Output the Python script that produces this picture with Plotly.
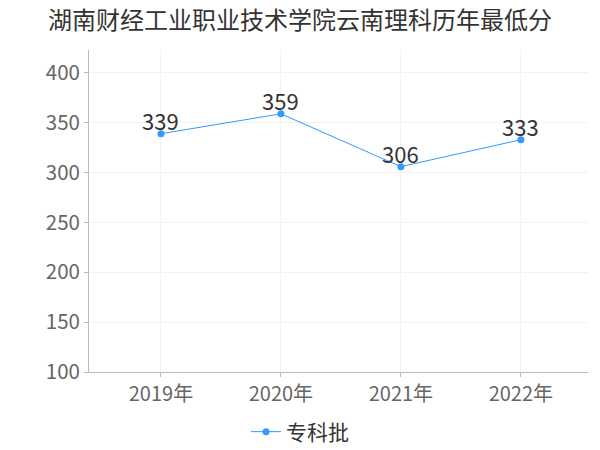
import plotly.graph_objects as go

years = ["2019年", "2020年", "2021年", "2022年"]
scores = [339, 359, 306, 333]
series_name = "专科批"
title = "湖南财经工业职业技术学院云南理科历年最低分"

font = "Noto Sans CJK SC"

fig = go.Figure()
fig.add_trace(go.Scatter(
    x=years, y=scores, name=series_name,
    mode="lines+markers",
    line=dict(color="#3399ff", width=1),
    marker=dict(color="#3399ff", size=7),
))

for yr, v in zip(years, scores):
    fig.add_annotation(x=yr, y=v, text=str(v), showarrow=False,
                       yshift=14, yanchor="middle",
                       font=dict(size=22, color="#333333", family=font))

fig.update_layout(
    width=600, height=450,
    margin=dict(l=89, r=12, t=50, b=78),
    paper_bgcolor="white", plot_bgcolor="white",
    title=dict(text=title, x=0.5, xanchor="center", y=0.955, yanchor="middle",
               font=dict(size=24, color="#333333", family=font)),
    showlegend=True,
    legend=dict(orientation="h", xref="container", yref="container",
                x=0.5, xanchor="center", y=0.04, yanchor="middle",
                font=dict(size=21, color="#333333", family=font),
                itemwidth=30),
    xaxis=dict(
        range=[-0.6, 3.56],
        showgrid=True, gridcolor="#f2f2f2", gridwidth=1,
        showline=True, linecolor="#bbbbbb", linewidth=1,
        ticks="outside", ticklen=4, tickcolor="#bbbbbb",
        tickfont=dict(size=20, color="#666666", family=font),
        zeroline=False, automargin=False,
    ),
    yaxis=dict(
        range=[100, 423],
        tickvals=[100, 150, 200, 250, 300, 350, 400],
        showgrid=True, gridcolor="#f2f2f2", gridwidth=1,
        showline=True, linecolor="#bbbbbb", linewidth=1,
        ticks="outside", ticklen=4, tickcolor="#bbbbbb",
        tickfont=dict(size=20.5, color="#666666", family=font),
        zeroline=False, automargin=False,
    ),
)

fig.write_html("out.html", config={"displayModeBar": False},
               post_script="document.body.style.margin='0';document.body.style.overflow='hidden';")
